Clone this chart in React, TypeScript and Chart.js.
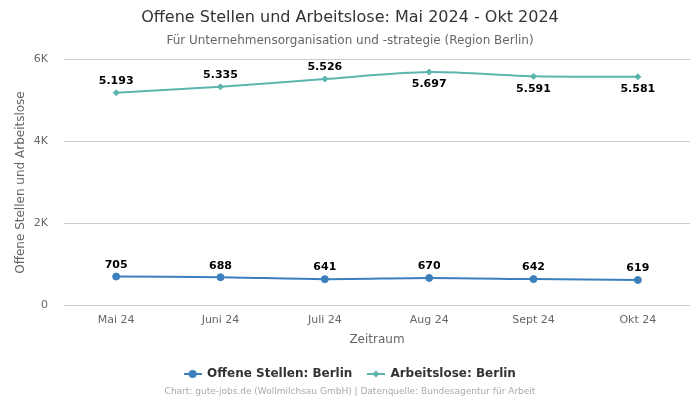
import React, { useEffect, useRef } from "react";
import { Chart, registerables } from "chart.js";

Chart.register(...registerables);

const categories = ["Mai 24", "Juni 24", "Juli 24", "Aug 24", "Sept 24", "Okt 24"];
const offeneStellen = [705, 688, 641, 670, 642, 619];
const arbeitslose = [5193, 5335, 5526, 5697, 5591, 5581];
const arbeitsloseLabelBelow = [false, false, false, true, true, true];
const yTicks = [0, 2000, 4000, 6000];

const BLUE = "#3b80bd";
const TEAL = "#5bb5ad";
const FONT = "'DejaVu Sans', sans-serif";

function makeLegendIcon(color: string, diamond: boolean) {
  const c = document.createElement("canvas");
  c.width = 18;
  c.height = 10;
  const ctx = c.getContext("2d")!;
  ctx.strokeStyle = color;
  ctx.fillStyle = color;
  ctx.lineWidth = 2;
  ctx.beginPath();
  ctx.moveTo(0, 5);
  ctx.lineTo(18, 5);
  ctx.stroke();
  ctx.beginPath();
  if (diamond) {
    ctx.moveTo(9, 1.5);
    ctx.lineTo(12.5, 5);
    ctx.lineTo(9, 8.5);
    ctx.lineTo(5.5, 5);
    ctx.closePath();
  } else {
    ctx.arc(9, 5, 4, 0, Math.PI * 2);
  }
  ctx.fill();
  return c;
}

function fmt(v: number) {
  return v.toLocaleString("de-DE");
}

export default function App() {
  const ref = useRef<HTMLCanvasElement | null>(null);
  useEffect(() => {
    document.body.style.margin = "0";
    const icons = [makeLegendIcon(BLUE, false), makeLegendIcon(TEAL, true)];
    const labelsPlugin = {
      id: "valueLabels",
      afterDatasetsDraw(chart: any) {
        const ctx = chart.ctx;
        ctx.save();
        ctx.font = `bold 11px ${FONT}`;
        ctx.fillStyle = "#000";
        ctx.textAlign = "center";
        chart.data.datasets.forEach((ds: any, di: number) => {
          const meta = chart.getDatasetMeta(di);
          meta.data.forEach((pt: any, i: number) => {
            const v = ds.data[i];
            const below = di === 1 && arbeitsloseLabelBelow[i];
            ctx.textBaseline = below ? "top" : "bottom";
            ctx.fillText(fmt(v), pt.x, below ? pt.y + 7 : pt.y - 6);
          });
        });
        ctx.restore();
      },
    };
    const footerPlugin = {
      id: "footer",
      afterDraw(chart: any) {
        const ctx = chart.ctx;
        ctx.save();
        ctx.font = `9px ${FONT}`;
        ctx.fillStyle = "#aaa";
        ctx.textAlign = "center";
        ctx.textBaseline = "middle";
        ctx.fillText(
          "Chart: gute-jobs.de (Wollmilchsau GmbH) | Datenquelle: Bundesagentur für Arbeit",
          chart.width / 2,
          392
        );
        ctx.restore();
      },
    };
    const chart = new Chart(ref.current!, {
      type: "line",
      data: {
        labels: categories,
        datasets: [
          {
            label: "Offene Stellen: Berlin",
            data: offeneStellen,
            borderColor: BLUE,
            backgroundColor: BLUE,
            pointStyle: "circle",
            pointRadius: 3.5,
            pointBorderWidth: 1,
            borderWidth: 2,
            tension: 0.3,
          },
          {
            label: "Arbeitslose: Berlin",
            data: arbeitslose,
            borderColor: TEAL,
            backgroundColor: TEAL,
            pointStyle: "rectRot",
            pointRadius: 3,
            pointBorderWidth: 1,
            borderWidth: 2,
            tension: 0.3,
          },
        ],
      },
      options: {
        animation: false,
        responsive: false,
        maintainAspectRatio: false,
        layout: { padding: { left: 10, right: 10, top: 6, bottom: 10 } },
        plugins: {
          title: {
            display: true,
            text: "Offene Stellen und Arbeitslose: Mai 2024 - Okt 2024",
            color: "#333",
            font: { family: FONT, size: 16, weight: "normal" },
            padding: { top: 2, bottom: 6 },
          },
          subtitle: {
            display: true,
            text: "Für Unternehmensorganisation und -strategie (Region Berlin)",
            color: "#666",
            font: { family: FONT, size: 12 },
            padding: { top: 0, bottom: 12 },
          },
          legend: {
            position: "bottom",
            labels: {
              usePointStyle: true,
              pointStyleWidth: 17,
              color: "#333",
              font: { family: FONT, size: 12, weight: "bold" },
              padding: 15,
              generateLabels: (ch: any) =>
                ch.data.datasets.map((ds: any, i: number) => ({
                  text: ds.label,
                  pointStyle: icons[i],
                  fillStyle: ds.borderColor,
                  strokeStyle: ds.borderColor,
                  fontColor: "#333",
                  lineWidth: 0,
                  datasetIndex: i,
                  hidden: false,
                })),
            },
          },
          tooltip: { enabled: false },
        },
        scales: {
          x: {
            offset: true,
            grid: { display: false, drawTicks: false },
            border: { display: false },
            ticks: { color: "#666", font: { family: FONT, size: 11 }, padding: 8 },
            title: {
              display: true,
              text: "Zeitraum",
              color: "#666",
              font: { family: FONT, size: 12 },
              padding: { top: -2, bottom: 6 },
            },
          },
          y: {
            min: 0,
            max: 6000,
            afterBuildTicks: (axis: any) => {
              axis.ticks = yTicks.map((v) => ({ value: v }));
            },
            afterFit: (axis: any) => {
              axis.width = 54;
            },
            grid: { color: "#ccc", drawTicks: false },
            border: { display: false },
            ticks: {
              color: "#666",
              font: { family: FONT, size: 11 },
              padding: 16,
              callback: (v: any) => (v === 0 ? "0" : `${v / 1000}K`),
            },
            title: {
              display: true,
              text: "Offene Stellen und Arbeitslose",
              color: "#666",
              font: { family: FONT, size: 12 },
            },
          },
        },
      },
      plugins: [labelsPlugin, footerPlugin],
    });
    return () => chart.destroy();
  }, []);
  return <canvas ref={ref} width={700} height={400} style={{ display: "block" }} />;
}
